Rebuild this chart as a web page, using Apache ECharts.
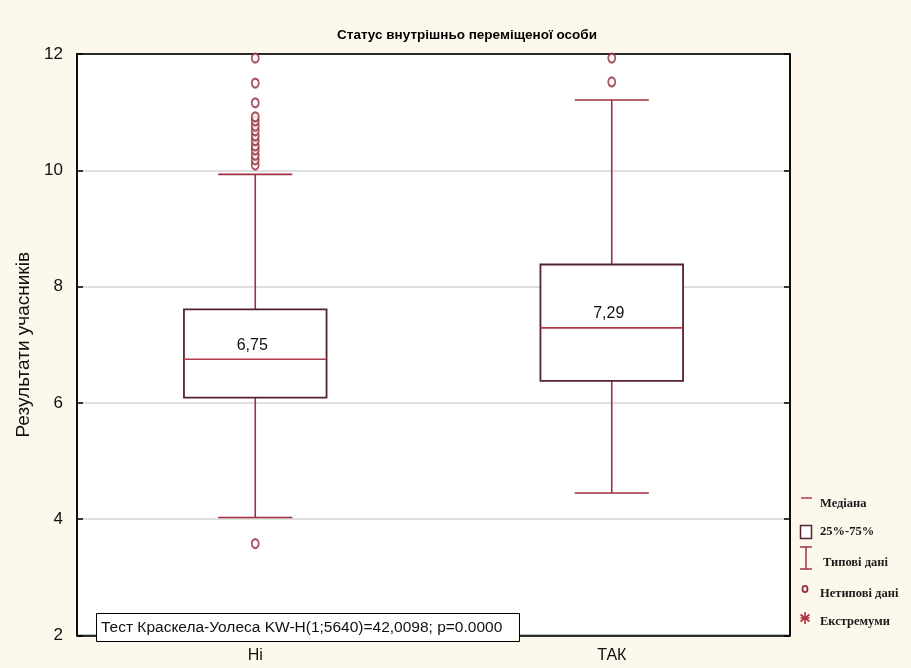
<!DOCTYPE html>
<html>
<head>
<meta charset="utf-8">
<script src="https://cdn.jsdelivr.net/npm/echarts@6/dist/echarts.min.js"></script>
<style>
html,body{margin:0;padding:0;background:#fcf8ec;}
#chart{width:911px;height:668px;}
</style>
</head>
<body>
<div id="chart"></div>
<script>
// ---- data ----
const categories = ['Ні', 'ТАК'];
const whiskerLow = [4.03, 4.45];
const q1 = [6.09, 6.38];
const median = [6.75, 7.29];
const q3 = [7.61, 8.38];
const whiskerHigh = [9.93, 11.21];
const outliersNi = [3.58, 10.09, 10.18, 10.26, 10.35, 10.42, 10.51, 10.59, 10.68, 10.76, 10.85, 10.92, 11.16, 11.50, 11.93];
const outliersTak = [11.52, 11.93];
const yTicks = [2, 4, 6, 8, 10, 12];
const titleText = 'Статус внутрішньо переміщеної особи';
const yName = 'Результати учасників';
const testText = 'Тест Краскела-Уолеса KW-H(1;5640)=42,0098; p=0.0000';
const legendItems = ['Медіана', '25%-75%', 'Типові дані', 'Нетипові дані', 'Екстремуми'];

const boxData = categories.map((c, i) => [i, whiskerLow[i], q1[i], median[i], q3[i], whiskerHigh[i]]);
const outlierData = outliersNi.map(v => [0, v]).concat(outliersTak.map(v => [1, v]));

const boxStroke = '#55222e';
const whiskerColor = '#a0303f';
const medianColor = '#b23c4b';
const outlierColor = '#952a3a';

function fmt(v) { return v.toFixed(2).replace('.', ','); }

const chart = echarts.init(document.getElementById('chart'), null, {renderer: 'canvas'});

const legendY = [504, 532, 563, 594, 622];
const legendGraphics = [];
legendGraphics.push({type:'line', shape:{x1:801, y1:498, x2:812, y2:498}, style:{stroke:medianColor, lineWidth:1.5}});
legendGraphics.push({type:'rect', shape:{x:800.5, y:525.5, width:11, height:13}, style:{stroke:boxStroke, fill:'#fff', lineWidth:1.5}});
legendGraphics.push({type:'line', shape:{x1:806, y1:547, x2:806, y2:569}, style:{stroke:whiskerColor, lineWidth:1.5}});
legendGraphics.push({type:'line', shape:{x1:800, y1:547, x2:812, y2:547}, style:{stroke:whiskerColor, lineWidth:1.5}});
legendGraphics.push({type:'line', shape:{x1:800, y1:569, x2:812, y2:569}, style:{stroke:whiskerColor, lineWidth:1.5}});
legendGraphics.push({type:'ellipse', shape:{cx:805, cy:589, rx:2.5, ry:3.2}, style:{stroke:outlierColor, fill:'none', lineWidth:1.8}});
legendGraphics.push({type:'line', shape:{x1:805, y1:612, x2:805, y2:624}, style:{stroke:'#b0303e', lineWidth:1.6}});
legendGraphics.push({type:'line', shape:{x1:800.5, y1:614.5, x2:809.5, y2:621.5}, style:{stroke:'#b0303e', lineWidth:1.6}});
legendGraphics.push({type:'line', shape:{x1:809.5, y1:614.5, x2:800.5, y2:621.5}, style:{stroke:'#b0303e', lineWidth:1.6}});
legendGraphics.push({type:'line', shape:{x1:800.5, y1:618, x2:809.5, y2:618}, style:{stroke:'#b0303e', lineWidth:1.6}});
const legendX = [820, 820, 823, 820, 820];
legendItems.forEach((t, i) => {
  legendGraphics.push({type:'text', x:legendX[i], y:legendY[i], style:{text:t, fill:'#1a1a1a', font:'bold 12.5px "Liberation Serif", "DejaVu Serif", serif', textVerticalAlign:'middle'}});
});

const option = {
  backgroundColor: '#fcf8ec',
  animation: false,
  title: {
    text: titleText,
    left: 462, top: 23, textAlign: 'center',
    textStyle: {fontFamily:'"Liberation Sans", sans-serif', fontWeight:'bold', fontSize:13.5, color:'#000'}
  },
  grid: {
    left: 77, right: 121, top: 54, bottom: 32.5,
    show: true, backgroundColor: '#fff', borderColor: '#000', borderWidth: 1.5
  },
  xAxis: [{
    type: 'category', data: categories, boundaryGap: true,
    axisLine: {lineStyle:{color:'#000', width:1.5}},
    axisTick: {inside:true, alignWithLabel:true, length:5, lineStyle:{color:'#000', width:1.5}},
    axisLabel: {margin:12, color:'#111', fontSize:16, fontFamily:'"Liberation Sans", sans-serif'},
    splitLine: {show:false}
  }, {
    type: 'category', data: categories, position: 'top', boundaryGap: true,
    axisLine: {lineStyle:{color:'#000', width:1.5}},
    axisTick: {inside:true, alignWithLabel:true, length:5, lineStyle:{color:'#000', width:1.5}},
    axisLabel: {show:false}
  }],
  yAxis: [{
    type: 'value', min: 2, max: 12, interval: 2,
    name: yName, nameLocation: 'middle', nameGap: 38, nameRotate: 90,
    nameTextStyle: {fontSize:19, color:'#111', fontFamily:'"Liberation Sans", sans-serif'},
    axisLine: {show:true, lineStyle:{color:'#000', width:1.5}},
    axisTick: {show:true, inside:true, length:6, lineStyle:{color:'#000', width:1.5}},
    axisLabel: {margin:14, color:'#111', fontSize:17, fontFamily:'"Liberation Sans", sans-serif',
      customValues: yTicks},
    splitLine: {show:true, lineStyle:{color:'#d4d4d4', width:1.5}}
  }, {
    type: 'value', min: 2, max: 12, interval: 2, position: 'right',
    axisLine: {show:true, lineStyle:{color:'#000', width:1.5}},
    axisTick: {show:true, inside:true, length:6, lineStyle:{color:'#000', width:1.5}},
    axisLabel: {show:false},
    splitLine: {show:false}
  }],
  series: [{
    type: 'custom',
    xAxisIndex: 0, yAxisIndex: 0,
    data: boxData,
    encode: {x: 0, y: [1, 2, 3, 4, 5]},
    z: 3,
    renderItem: function (params, api) {
      const idx = api.value(0);
      const lo = api.coord([idx, api.value(1)]);
      const b1 = api.coord([idx, api.value(2)]);
      const md = api.coord([idx, api.value(3)]);
      const b3 = api.coord([idx, api.value(4)]);
      const hi = api.coord([idx, api.value(5)]);
      const band = api.size([1, 0])[0];
      const hw = band * 0.2;
      const cw = band * 0.104;
      const x = md[0];
      const ws = {stroke: whiskerColor, lineWidth: 1.6};
      return {
        type: 'group',
        children: [
          {type:'line', shape:{x1:x, y1:hi[1], x2:x, y2:b3[1]}, style:ws},
          {type:'line', shape:{x1:x, y1:b1[1], x2:x, y2:lo[1]}, style:ws},
          {type:'line', shape:{x1:x-cw, y1:hi[1], x2:x+cw, y2:hi[1]}, style:ws},
          {type:'line', shape:{x1:x-cw, y1:lo[1], x2:x+cw, y2:lo[1]}, style:ws},
          {type:'rect', shape:{x:x-hw, y:b3[1], width:2*hw, height:b1[1]-b3[1]}, style:{fill:'#fff', stroke:boxStroke, lineWidth:1.8}},
          {type:'line', shape:{x1:x-hw, y1:md[1], x2:x+hw, y2:md[1]}, style:{stroke:medianColor, lineWidth:1.6}},
          {type:'text', x:x-3, y:md[1]-14, style:{text: fmt(api.value(3)), fill:'#111', font:'16px "Liberation Sans", sans-serif', textAlign:'center', textVerticalAlign:'middle'}}
        ]
      };
    }
  }, {
    type: 'scatter',
    xAxisIndex: 0, yAxisIndex: 0,
    data: outlierData,
    symbol: 'emptyCircle',
    symbolSize: [7, 9],
    z: 4,
    itemStyle: {color:outlierColor, borderColor:outlierColor, borderWidth:1.8}
  }],
  graphic: [
    {type:'rect', z:100, shape:{x:96.5, y:613.5, width:423, height:28}, style:{fill:'#fff', stroke:'#000', lineWidth:1}},
    {type:'text', z:101, x:101, y:627.5, style:{text:testText, fill:'#111', font:'15.5px "Liberation Sans", sans-serif', textVerticalAlign:'middle'}}
  ].concat(legendGraphics)
};
chart.setOption(option);
</script>
</body>
</html>
